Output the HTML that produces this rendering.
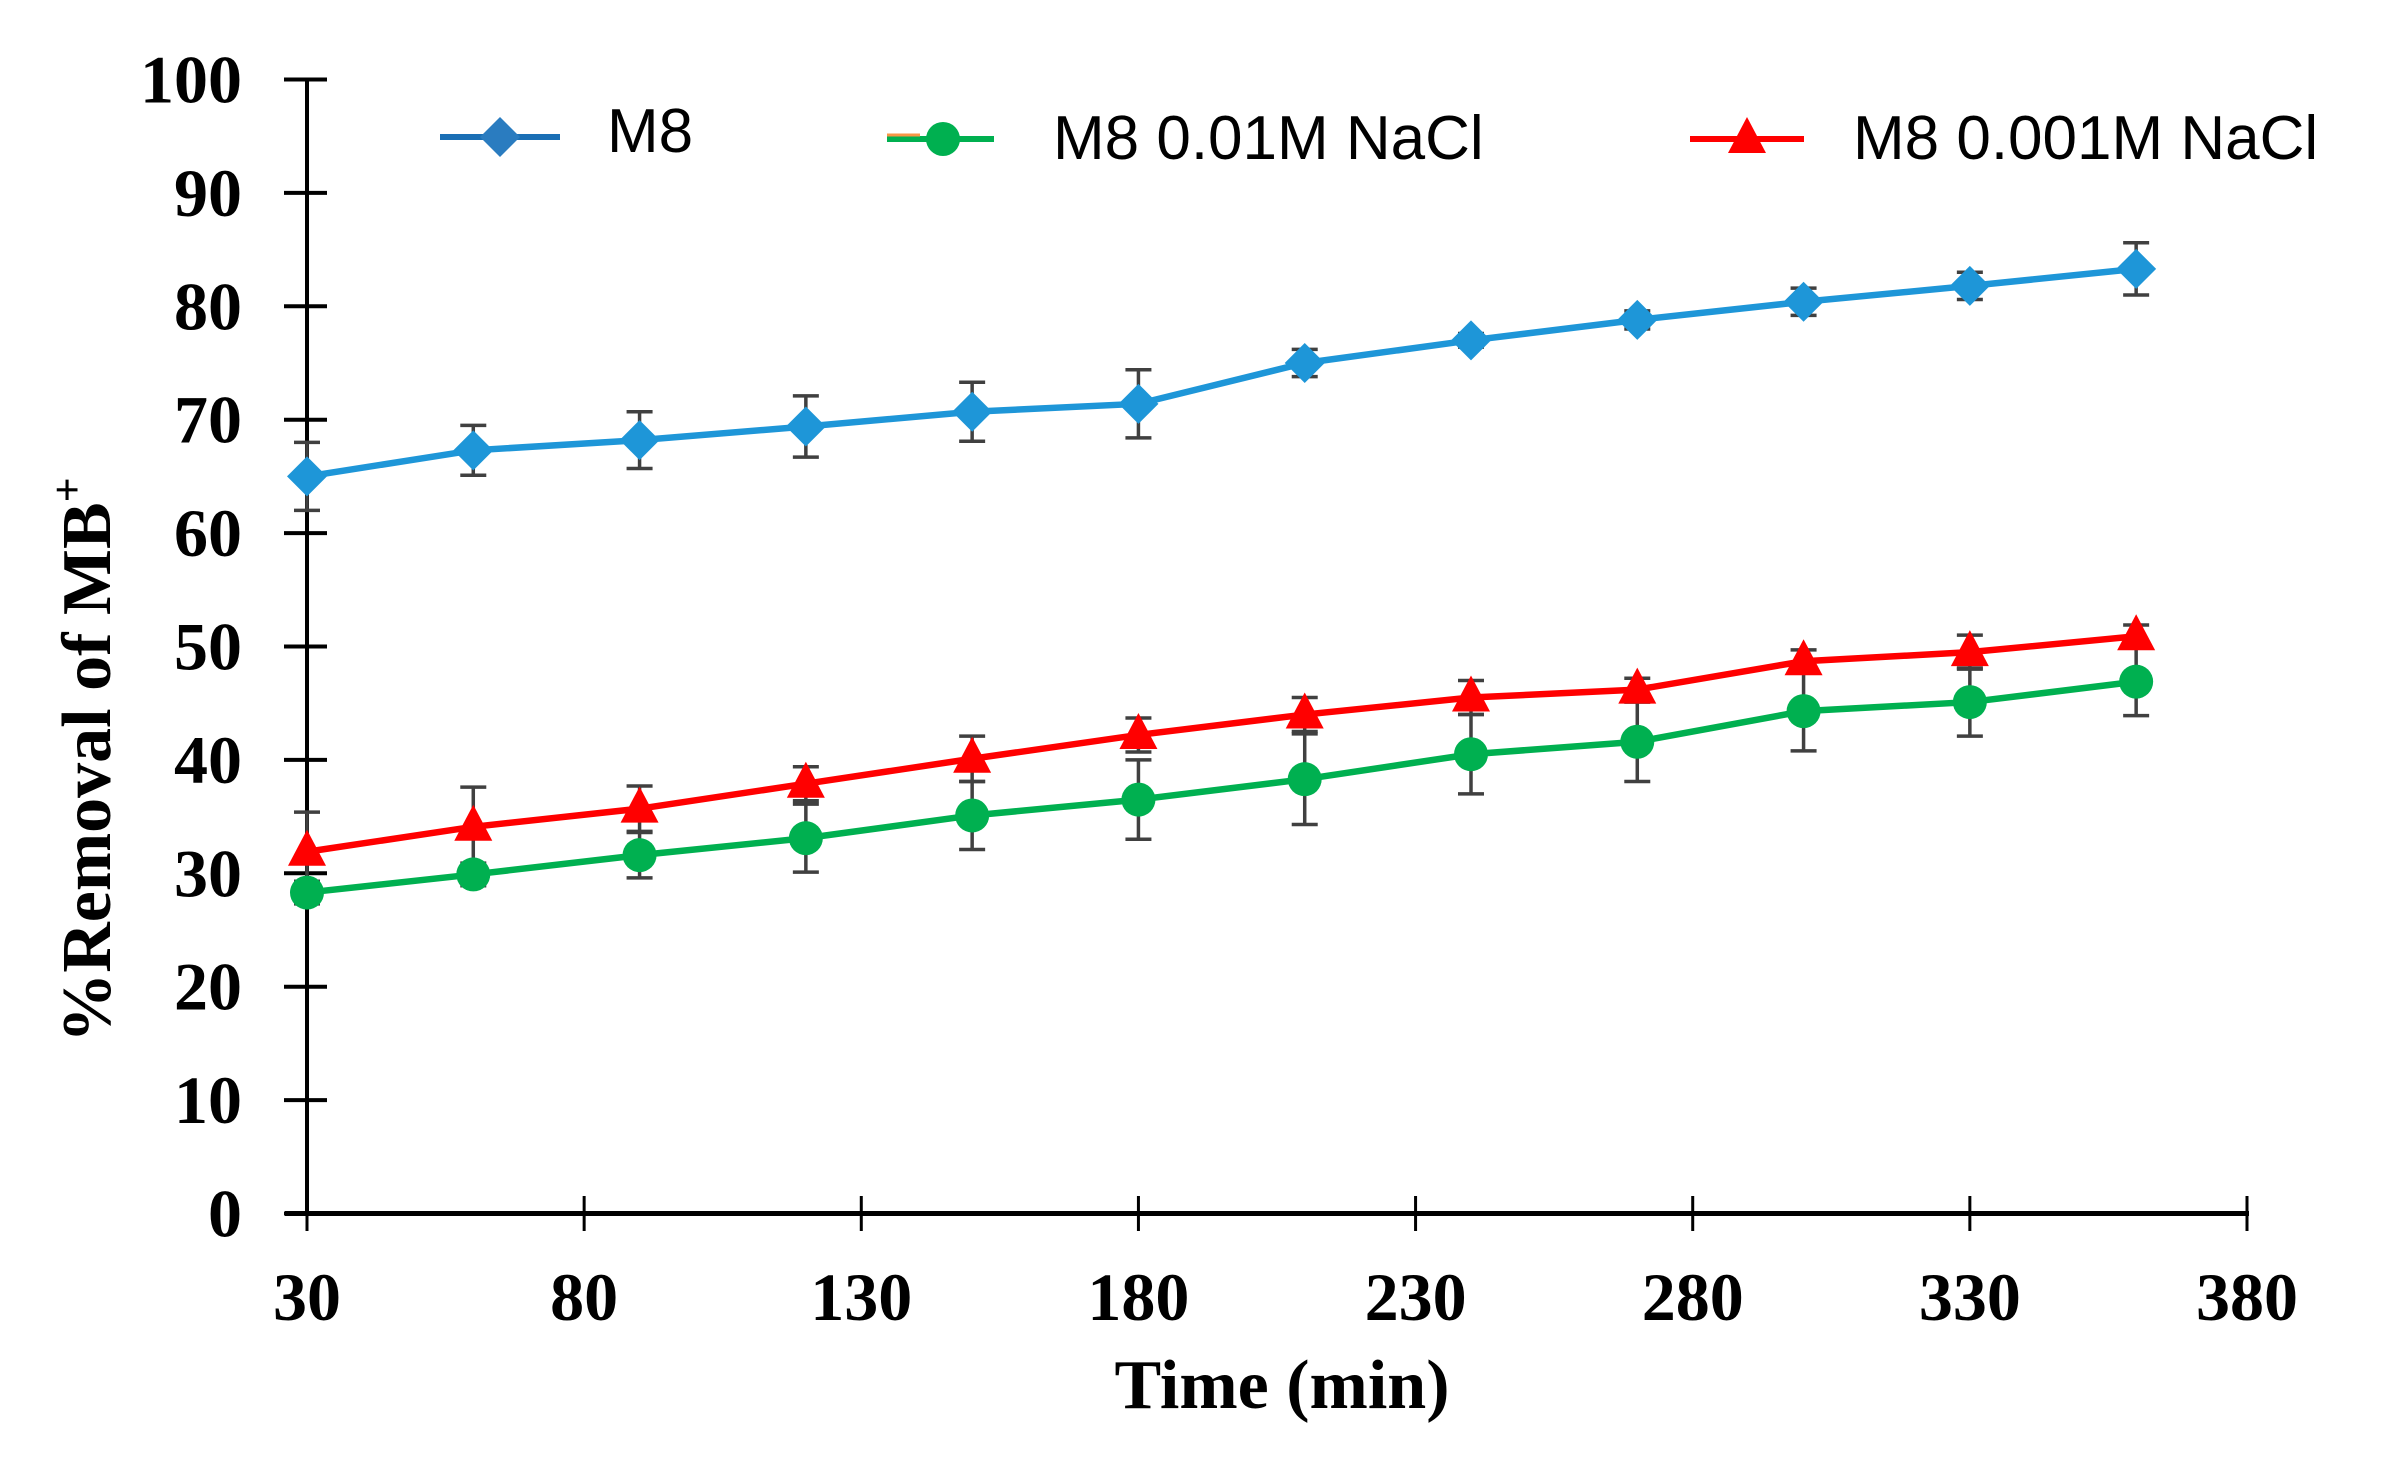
<!DOCTYPE html>
<html><head><meta charset="utf-8"><style>
html,body{margin:0;padding:0;background:#fff;}
svg{display:block;}
</style></head><body>
<svg id="s" width="2385" height="1474" xmlns="http://www.w3.org/2000/svg">
<rect width="2385" height="1474" fill="#fff"/>
<g id="g"></g>
</svg>
<script>
const X0=307,XS=(2247-307)/350,Y0=1213.5,YS=(1213.5-79.5)/100;
const px=t=>X0+(t-30)*XS, py=v=>Y0-v*YS;
const T=[30,60,90,120,150,180,210,240,270,300,330,360];
const M8=[65,67.3,68.2,69.4,70.7,71.4,75,77,78.8,80.4,81.8,83.3];
const M8e=[3,2.2,2.5,2.7,2.6,3,1.2,0.6,0.8,1.2,1.2,2.3];
const R=[31.9,34.1,35.7,37.9,40.1,42.2,44,45.5,46.2,48.7,49.5,50.9];
const Re=[3.5,3.5,2,1.5,2,1.5,1.5,1.5,1,1,1.5,1];
const G=[28.3,29.9,31.6,33.1,35.1,36.5,38.3,40.5,41.6,44.3,45.1,46.9];
const Ge=[1,1,2,3,3,3.5,4,3.5,3.5,3.5,3,3];
const BL='#1e96d8',GR='#00b050',RD='#ff0000',EC='#404040';
let h='';
h+=`<line x1="${X0}" y1="${py(100)}" x2="${X0}" y2="${Y0}" stroke="#000" stroke-width="4"/>`;
h+=`<line x1="285" y1="${Y0}" x2="2249" y2="${Y0}" stroke="#000" stroke-width="5"/>`;
for(let v=0;v<=100;v+=10){const y=py(v);
 h+=`<line x1="284" y1="${y}" x2="327" y2="${y}" stroke="#000" stroke-width="4"/>`;
 h+=`<text x="242" y="${y+23}" text-anchor="end" font-family="Liberation Serif,serif" font-weight="bold" font-size="68">${v}</text>`;}
for(let t=30;t<=380;t+=50){const x=px(t);
 h+=`<line x1="${x}" y1="1196" x2="${x}" y2="1231" stroke="#000" stroke-width="3"/>`;
 h+=`<text x="${x}" y="1320" text-anchor="middle" font-family="Liberation Serif,serif" font-weight="bold" font-size="68">${t}</text>`;}
h+=`<text x="1282" y="1408" text-anchor="middle" font-family="Liberation Serif,serif" font-weight="bold" font-size="70">Time (min)</text>`;
h+=`<text transform="translate(110,760) rotate(-90)" text-anchor="middle" font-family="Liberation Serif,serif" font-weight="bold" font-size="70">%Removal of MB<tspan dy="-28" font-size="44">+</tspan></text>`;
function err(d,e){let s='';T.forEach((t,i)=>{const x=px(t),a=py(d[i]+e[i]),b=py(d[i]-e[i]);
 s+=`<line x1="${x}" y1="${a}" x2="${x}" y2="${b}" stroke="${EC}" stroke-width="3.5"/><line x1="${x-13}" y1="${a}" x2="${x+13}" y2="${a}" stroke="${EC}" stroke-width="3.5"/><line x1="${x-13}" y1="${b}" x2="${x+13}" y2="${b}" stroke="${EC}" stroke-width="3.5"/>`;});return s;}
function line(d,c){return `<polyline fill="none" stroke="${c}" stroke-width="6.5" points="${T.map((t,i)=>px(t)+','+py(d[i])).join(' ')}"/>`;}
const dia=(x,y,c)=>`<polygon points="${x},${y-20} ${x+20},${y} ${x},${y+20} ${x-20},${y}" fill="${c}"/>`;
const cir=(x,y,c)=>`<circle cx="${x}" cy="${y}" r="17" fill="${c}"/>`;
const tri=(x,y,c)=>`<polygon points="${x},${y-22} ${x+19},${y+14} ${x-19},${y+14}" fill="${c}"/>`;
h+=err(M8,M8e)+err(R,Re)+err(G,Ge);
h+=line(M8,BL)+line(G,GR)+line(R,RD);
T.forEach((t,i)=>{h+=dia(px(t),py(M8[i]),BL)+cir(px(t),py(G[i]),GR)+tri(px(t),py(R[i]),RD);});
h+=`<line x1="440" y1="137" x2="560" y2="137" stroke="#1a6fb5" stroke-width="6"/>`+dia(500,137,'#2a7cc0');
h+=`<text x="607" y="152" font-family="Liberation Sans,sans-serif" font-size="62">M8</text>`;
h+=`<line x1="887" y1="139" x2="994" y2="139" stroke="${GR}" stroke-width="6"/><line x1="887" y1="135" x2="920" y2="135" stroke="#f79646" stroke-width="3"/>`+cir(943,139,GR);
h+=`<text x="1053" y="159" font-family="Liberation Sans,sans-serif" font-size="62">M8 0.01M NaCl</text>`;
h+=`<line x1="1690" y1="139" x2="1804" y2="139" stroke="${RD}" stroke-width="6"/>`+tri(1747,139,RD);
h+=`<text x="1853" y="159" font-family="Liberation Sans,sans-serif" font-size="62">M8 0.001M NaCl</text>`;
document.getElementById('g').innerHTML=h;
</script>
</body></html>
